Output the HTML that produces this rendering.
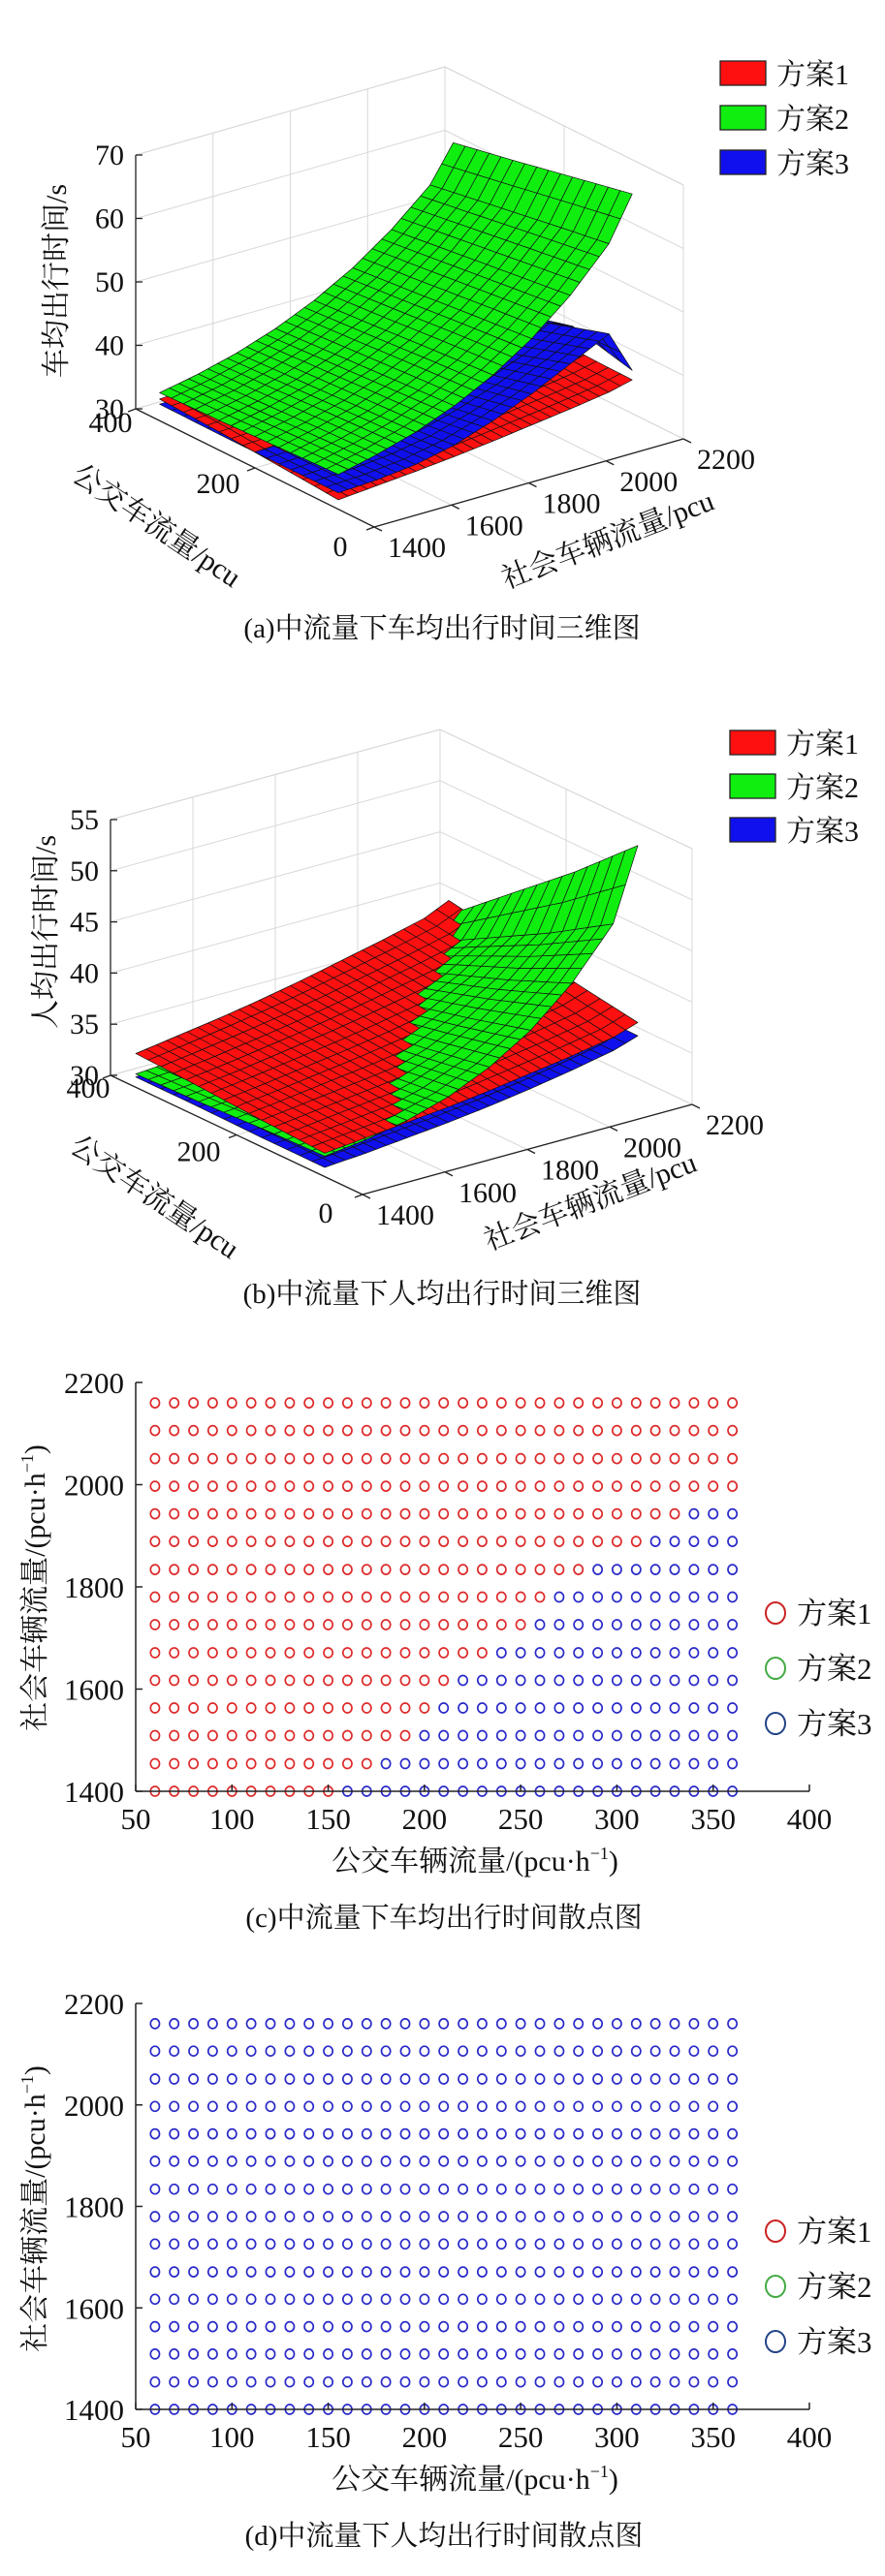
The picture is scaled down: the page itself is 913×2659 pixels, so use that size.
<!DOCTYPE html>
<html><head><meta charset="utf-8"><title>中流量下出行时间图</title>
<style>
html,body{margin:0;padding:0;background:#fff;}
svg{display:block;}
text{font-family:"Liberation Serif","Noto Serif CJK SC",serif;fill:#111;}
</style></head>
<body>
<svg id="chart" xmlns="http://www.w3.org/2000/svg" width="913" height="2659" viewBox="0 0 913 2659"></svg>
<script>
// ---------- data ----------
const busVals=[60,160,260,360];
const socialVals=[1400,1500,1600,1700,1800,1900,2000,2100,2160];
// (a) vehicle average travel time (s), rows = bus flow
const aScheme1=[[31.5,32.0,32.5,33.1,33.8,34.6,35.4,36.3,37.2],[32.2,32.6,33.1,33.6,34.2,34.9,35.7,36.6,37.4],[32.9,33.2,33.6,34.1,34.7,35.3,36.0,36.8,37.6],[33.4,33.7,34.1,34.6,35.1,35.7,36.3,37.0,37.8]];
const aScheme2=[[35.5,36.9,38.7,41.1,44.2,48.2,53.3,59.7,66.5],[35.1,36.5,38.2,40.5,43.5,47.3,52.1,58.2,64.5],[34.7,36.0,37.7,39.9,42.7,46.3,50.9,56.6,62.5],[34.4,35.6,37.2,39.3,42.0,45.4,49.7,55.0,60.6]];
const aScheme3=[[32.6,32.9,33.6,34.9,37.0,39.5,42.5,45.5,38.7],[32.5,32.7,33.1,33.9,35.3,37.2,39.5,42.5,41.0],[32.5,32.6,32.9,33.4,34.3,35.5,37.0,38.8,38.5],[32.6,32.7,32.9,33.2,33.7,34.3,35.0,35.8,36.2]];
// (b) person average travel time (s)
const bScheme1=[[32.3,32.7,33.1,33.5,34.0,34.6,35.2,35.9,36.7],[32.6,33.1,33.6,34.1,34.7,35.4,36.1,36.9,37.7],[33.0,33.5,34.1,34.7,35.4,36.2,37.0,37.9,38.8],[33.3,33.9,34.5,35.2,36.0,36.9,37.8,38.8,39.9]];
const bScheme2=[[32.0,32.5,33.3,34.5,36.3,38.8,42.3,47.0,54.0],[31.8,32.2,32.8,33.8,35.2,37.1,39.7,43.2,48.5],[31.5,31.9,32.4,33.2,34.2,35.6,37.4,39.8,43.5],[31.3,31.6,32.0,32.5,33.1,33.9,34.9,36.4,38.5]];
const bScheme3=[[30.9,31.2,31.6,32.0,32.5,33.1,33.8,34.6,35.4],[30.9,31.2,31.6,32.0,32.5,33.1,33.8,34.6,35.5],[31.0,31.3,31.7,32.1,32.6,33.2,33.9,34.7,35.6],[31.0,31.3,31.7,32.2,32.7,33.3,34.0,34.8,35.7]];
const aZTicks=[30,40,50,60,70];
const bZTicks=[30,35,40,45,50,55];
const busTicks=[0,200,400];
const socialTicks=[1400,1600,1800,2000,2200];
// scatter data
const scatterBus=[60,70,80,90,100,110,120,130,140,150,160,170,180,190,200,210,220,230,240,250,260,270,280,290,300,310,320,330,340,350,360];
const scatterSocial=[1400,1454,1509,1563,1617,1671,1726,1780,1834,1889,1943,1997,2051,2106,2160];
// largest bus flow where scheme 1 is optimal, per social row (else scheme 3)
const cScheme1Limit=[150,170,190,200,210,230,250,260,280,310,330,360,360,360,360];
const dScheme1Limit=[0,0,0,0,0,0,0,0,0,0,0,0,0,0,0];
const xTicks=[50,100,150,200,250,300,350,400];
const yTicks=[1400,1600,1800,2000,2200];
const schemeNames=['方案1','方案2','方案3'];

// ---------- helpers ----------
const NS='http://www.w3.org/2000/svg';
const svg=document.getElementById('chart');
function mk(tag,attrs,parent,txt){const e=document.createElementNS(NS,tag);for(const k in attrs)e.setAttribute(k,attrs[k]);if(txt!==undefined)e.textContent=txt;(parent||svg).appendChild(e);return e;}
function grp(parent){return mk('g',{},parent);}

// ---------- 3D surface charts ----------
function chart3d(cfg){
  const g=grp();
  
  
  const zr=cfg.zmax-cfg.zmin;
  function P(bus,soc,z){const bn=bus/400,sn=(soc-1400)/800,zn=(z-cfg.zmin)/zr;
    return [cfg.ox+bn*cfg.bv[0]+sn*cfg.sv[0], cfg.oy+bn*cfg.bv[1]+sn*cfg.sv[1]-zn*cfg.zh];}
  const gl=grp(g);
  
  
  const gs={stroke:'#d8d8d8','stroke-width':1,fill:'none'};
  function line(a,b,st,par){return mk('line',Object.assign({x1:a[0],y1:a[1],x2:b[0],y2:b[1]},st),par||gl);}
  cfg.zticks.forEach(z=>{line(P(400,1400,z),P(400,2200,z),gs);line(P(400,2200,z),P(0,2200,z),gs);});
  socialTicks.forEach(s=>{line(P(400,s,cfg.zmin),P(400,s,cfg.zmax),gs);line(P(400,s,cfg.zmin),P(0,s,cfg.zmin),gs);});
  busTicks.forEach(b=>{line(P(b,2200,cfg.zmin),P(b,2200,cfg.zmax),gs);line(P(b,1400,cfg.zmin),P(b,2200,cfg.zmin),gs);});
  line(P(400,1400,cfg.zmax),P(400,2200,cfg.zmax),gs);line(P(400,2200,cfg.zmax),P(0,2200,cfg.zmax),gs);
  const sg=grp(g);
  
  
  const quads=[];
  const SUBS=4,SUBB=5;
  cfg.series.forEach((data,si)=>{
    for(let i=0;i<busVals.length-1;i++)for(let j=0;j<socialVals.length-1;j++){
      const b0=busVals[i],b1=busVals[i+1],s0=socialVals[j],s1=socialVals[j+1];
      const z00=data[i][j],z01=data[i][j+1],z10=data[i+1][j],z11=data[i+1][j+1];
      const ns=(j===socialVals.length-2)?2:SUBS;
      for(let u=0;u<SUBB;u++)for(let v=0;v<ns;v++){
        const corners=[[u,v],[u+1,v],[u+1,v+1],[u,v+1]].map(([a,c])=>{
          const fa=a/SUBB,fc=c/ns;
          const z=(1-fa)*(1-fc)*z00+(1-fa)*fc*z01+fa*(1-fc)*z10+fa*fc*z11;
          return {b:b0+(b1-b0)*fa,s:s0+(s1-s0)*fc,z:z};});
        let d=0;corners.forEach(c=>{d+=c.b/400+(c.s-1400)/800-0.9*(c.z-cfg.zmin)/zr;});
        quads.push({d:d/4,si:si,pts:corners.map(c=>P(c.b,c.s,c.z))});
      }
    }
  });
  quads.sort((a,b)=>b.d-a.d);
  quads.forEach(q=>{
    const p=mk('polygon',{points:q.pts.map(p=>p[0].toFixed(1)+','+p[1].toFixed(1)).join(' '),fill:cfg.colors[q.si],stroke:'#111','stroke-width':0.7,'stroke-linejoin':'round'},sg);
    
    
  });
  const ag=grp(g);
  
  
  const as={stroke:'#222','stroke-width':1.3};
  line(P(400,1400,cfg.zmin),P(400,1400,cfg.zmax),as,ag);
  line(P(400,1400,cfg.zmin),P(0,1400,cfg.zmin),as,ag);
  line(P(0,1400,cfg.zmin),P(0,2200,cfg.zmin),as,ag);
  cfg.zticks.forEach(z=>{const p=P(400,1400,z);line(p,[p[0]+7,p[1]],as,ag);
    const t=mk('text',{x:p[0]-12,y:p[1]+10,'text-anchor':'end','font-size':30},ag,String(z));
    
    });
  busTicks.forEach((b,k)=>{const p=P(b,1400,cfg.zmin);line(p,[p[0]-8,p[1]+3],as,ag);
    const t=mk('text',{x:p[0]-cfg.busLabDx[k],y:p[1]+cfg.busLabDy[k],'text-anchor':'middle','font-size':30},ag,String(b));
    
    });
  socialTicks.forEach(s=>{const p=P(0,s,cfg.zmin);line(p,[p[0]+8,p[1]+4],as,ag);
    const t=mk('text',{x:p[0]+44,y:p[1]+31,'text-anchor':'middle','font-size':30},ag,String(s));
    
    });
  let t=mk('text',{x:0,y:0,'text-anchor':'middle','font-size':30,transform:`translate(${cfg.zt[0]},${cfg.zt[1]}) rotate(-90)`,'dominant-baseline':'middle'},ag,cfg.ztitle);
  
  
  t=mk('text',{x:0,y:0,'text-anchor':'middle','font-size':30,transform:`translate(${cfg.bt[0]},${cfg.bt[1]}) rotate(34)`,'dominant-baseline':'middle'},ag,'公交车流量/pcu');
  
  
  t=mk('text',{x:0,y:0,'text-anchor':'middle','font-size':30,transform:`translate(${cfg.st[0]},${cfg.st[1]}) rotate(-21)`,'dominant-baseline':'middle'},ag,'社会车辆流量/pcu');
  
  
  const lg=grp(g);
  
  
  cfg.legendY.forEach((y,k)=>{
    const e=grp(lg);
    
    
    mk('rect',{x:cfg.legendX,y:y,width:47,height:25,fill:cfg.colors[k],stroke:'#222','stroke-width':1.3},e);
    mk('text',{x:cfg.legendX+58,y:y+24,'font-size':30},e,schemeNames[k]);
  });
  t=mk('text',{x:456,y:cfg.capY,'text-anchor':'middle','font-size':29},g,cfg.caption);
  
  
}
const colors3=['#ff1010','#10ee10','#1010ee'];
chart3d({name:'chart-a-vehicle-3d',ox:386,oy:544,bv:[-246,-122],sv:[319,-91],zh:262,zmin:30,zmax:70,zticks:aZTicks,
  series:[aScheme1,aScheme2,aScheme3],colors:colors3,ztitle:'车均出行时间/s',zt:[61,290],bt:[160,545],st:[628,560],
  busLabDx:[35,38,26],busLabDy:[30,26,24],legendX:743,legendY:[63,109,155],capY:658,caption:'(a)中流量下车均出行时间三维图'});
chart3d({name:'chart-b-person-3d',ox:374,oy:1233,bv:[-260,-123],sv:[340,-93],zh:264,zmin:30,zmax:55,zticks:bZTicks,
  series:[bScheme1,bScheme2,bScheme3],colors:colors3,ztitle:'人均出行时间/s',zt:[50,962],bt:[158,1238],st:[610,1243],
  busLabDx:[38,39,23],busLabDy:[29,27,23],legendX:753,legendY:[754,799,844],capY:1345,caption:'(b)中流量下人均出行时间三维图'});

// ---------- scatter charts ----------
function scatter(cfg){
  const g=grp();
  
  
  const X=v=>140+(v-50)/350*695;
  const Y=v=>cfg.yb-(v-1400)/800*(cfg.yb-cfg.yt);
  const pg=grp(g);
  
  
  scatterSocial.forEach((s,r)=>{
    scatterBus.forEach(b=>{
      const red=b<=cfg.limit[r];
      const c=mk('ellipse',{cx:X(b).toFixed(1),cy:Y(s).toFixed(1),rx:4.6,ry:5,fill:'none',stroke:red?'#dd2a2a':'#2a2ac8','stroke-width':1.7},pg);
      
      
    });
  });
  const ag=grp(g);
  
  
  const as={stroke:'#222','stroke-width':1.5};
  mk('line',Object.assign({x1:140,y1:cfg.yt,x2:140,y2:cfg.yb},as),ag);
  mk('line',Object.assign({x1:140,y1:cfg.yb,x2:835,y2:cfg.yb},as),ag);
  xTicks.forEach(v=>{mk('line',Object.assign({x1:X(v),y1:cfg.yb,x2:X(v),y2:cfg.yb-7},as),ag);
    const t=mk('text',{x:X(v),y:cfg.yb+39,'text-anchor':'middle','font-size':31},ag,String(v));
    
    });
  yTicks.forEach(v=>{mk('line',Object.assign({x1:140,y1:Y(v),x2:147,y2:Y(v)},as),ag);
    const t=mk('text',{x:128,y:Y(v)+11,'text-anchor':'end','font-size':31},ag,String(v));
    
    });
  let t=mk('text',{x:490,y:cfg.yb+82,'text-anchor':'middle','font-size':30},ag);
  
  
  t.innerHTML='公交车辆流量/(pcu·h<tspan font-size="18" dy="-12">−1</tspan><tspan dy="12">)</tspan>';
  t=mk('text',{x:0,y:0,'text-anchor':'middle','font-size':30,transform:`translate(46,${cfg.yt+212}) rotate(-90)`},ag);
  
  
  t.innerHTML='社会车辆流量/(pcu·h<tspan font-size="18" dy="-12">−1</tspan><tspan dy="12">)</tspan>';
  const lg=grp(g);
  
  
  const lc=['#cc2222','#44aa44','#224488'];
  [0,1,2].forEach(k=>{
    const y=cfg.yb-184+k*57;
    const e=grp(lg);
    
    
    mk('ellipse',{cx:800,cy:y,rx:10,ry:11,fill:'none',stroke:lc[k],'stroke-width':2},e);
    mk('text',{x:822,y:y+11,'font-size':31},e,schemeNames[k]);
  });
  t=mk('text',{x:458,y:cfg.yb+140,'text-anchor':'middle','font-size':29},g,cfg.caption);
  
  
}
scatter({name:'chart-c-vehicle-scatter',yt:1427,yb:1849,limit:cScheme1Limit,caption:'(c)中流量下车均出行时间散点图'});
scatter({name:'chart-d-person-scatter',yt:2068,yb:2487,limit:dScheme1Limit,caption:'(d)中流量下人均出行时间散点图'});
</script>
</body></html>
